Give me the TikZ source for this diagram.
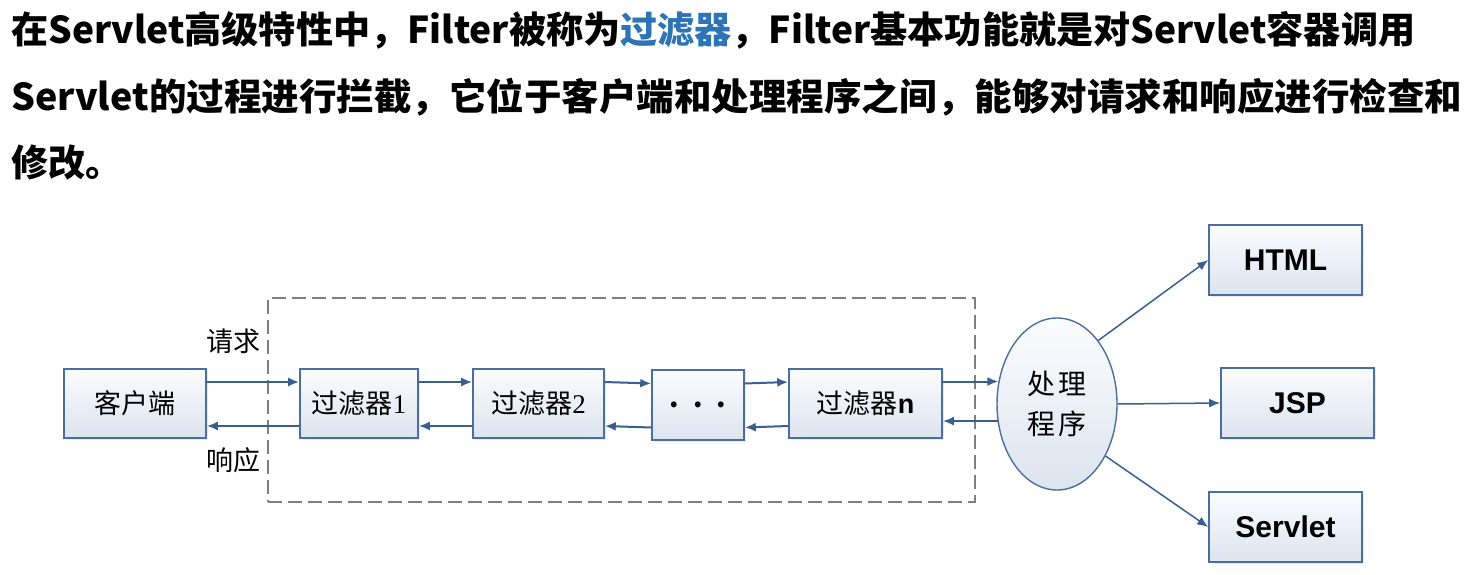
\documentclass[tikz,border=0pt]{standalone}
\usepackage{fontspec}
\usepackage{graphicx}
\setmainfont{Liberation Serif}
\newfontfamily\cjk{Noto Sans CJK SC}
\newfontfamily\arialf{Liberation Sans}
\usetikzlibrary{arrows.meta,shapes.geometric,shadows}
\definecolor{bordc}{HTML}{4A6E9E}
\definecolor{arrc}{HTML}{3A5E90}
\definecolor{topc}{HTML}{FBFCFE}
\definecolor{botc}{HTML}{DCE4EF}
\definecolor{dashc}{HTML}{7F7F7F}
\definecolor{bluet}{HTML}{2E74B5}
\tikzset{
  titlefont/.style={font=\cjk\bfseries\fontsize{37}{37}\selectfont, inner sep=0pt, anchor=base west},
  boxnode/.style={draw=bordc, line width=1.6pt, top color=topc, bottom color=botc,
    drop shadow={opacity=0.15, shadow xshift=2pt, shadow yshift=-2pt},
    font=\cjk\fontsize{27}{27}\selectfont, minimum height=69pt, inner sep=0pt},
  outbox/.style={boxnode, font=\arialf\bfseries\fontsize{30}{30}\selectfont, minimum width=153pt, minimum height=70pt},
  ellnode/.style={ellipse, draw=bordc, line width=1.4pt, top color=topc, bottom color=botc,
    minimum width=120pt, minimum height=172pt, inner sep=0pt,
    font=\cjk\fontsize{28}{40}\selectfont, align=center},
  arr/.style={draw=arrc, line width=2pt, -{Latex[length=11pt,width=9pt]}},
  sidelabel/.style={font=\cjk\fontsize{27}{27}\selectfont, inner sep=0pt},
  dashbox/.style={draw=dashc, line width=1.4pt, dash pattern=on 14pt off 6pt}
}
\begin{document}
\begin{tikzpicture}[x=1pt,y=-1pt]
\useasboundingbox (0,0) rectangle (1471,575);
% title
\node[titlefont] (t1) at (11,44) {\resizebox{1404pt}{\height}{在Servlet高级特性中，Filter被称为\textcolor{bluet}{过滤器}，Filter基本功能就是对Servlet容器调用}};
\node[titlefont] (t2) at (11,111) {\resizebox{1451pt}{\height}{Servlet的过程进行拦截，它位于客户端和处理程序之间，能够对请求和响应进行检查和}};
\node[titlefont] (t3) at (11,176) {修改。};
% dashed frame
\node[dashbox, minimum width=707pt, minimum height=204pt, inner sep=0pt] (frame) at (621.5,400) {};
% boxes
\node[boxnode, minimum width=142pt] (c) at (135,403.5) {客户端};
\node[boxnode, minimum width=118pt] (f1) at (359,403.5) {过滤器{\fontspec{Liberation Serif}1}};
\node[boxnode, minimum width=131pt] (f2) at (538.5,403.5) {过滤器{\fontspec{Liberation Serif}2}};
\node[boxnode, minimum width=92pt, minimum height=70pt] (dots) at (698,405) {{\bfseries .\hspace{14pt}.\hspace{14pt}.}};
\node[boxnode, minimum width=153pt] (fn) at (865.5,403.5) {过滤器{\arialf\bfseries n}};
\node[ellnode] (e) at (1057,404) {处\hspace{3pt}理\\程\hspace{3pt}序};
\node[outbox] (html) at (1285.5,260) {HTML};
\node[outbox] (jsp) at (1297.5,403) {JSP};
\node[outbox] (sv) at (1285.5,527) {Servlet};
% labels
\node[sidelabel] (req) at (233,341) {请求};
\node[sidelabel] (resp) at (233,460) {响应};
% request arrows
\draw[arr] ([yshift=21.5pt]c.east) -- ([yshift=21.5pt]f1.west);
\draw[arr] ([yshift=21.5pt]f1.east) -- ([yshift=21.5pt]f2.west);
\draw[arr] ([yshift=21.5pt]f2.east) -- ([yshift=21.5pt]dots.west);
\draw[arr] ([yshift=21.5pt]dots.east) -- ([yshift=21.5pt]fn.west);
\draw[arr] (fn.east |- e.159) -- (e.159);
% response arrows
\draw[arr] ([yshift=-22.5pt]f1.west) -- ([yshift=-22.5pt]c.east);
\draw[arr] ([yshift=-22.5pt]f2.west) -- ([yshift=-22.5pt]f1.east);
\draw[arr] ([yshift=-22.5pt]dots.west) -- ([yshift=-22.5pt]f2.east);
\draw[arr] ([yshift=-22.5pt]fn.west) -- ([yshift=-22.5pt]dots.east);
\draw[arr] (e.196) -- (e.196 -| fn.east);
% outputs
\draw[arr, line width=1.5pt] (e.57) -- (html.west);
\draw[arr, line width=1.5pt] (e.east) -- (jsp.west);
\draw[arr, line width=1.5pt] (e.-47) -- (sv.west);
\end{tikzpicture}
\end{document}
